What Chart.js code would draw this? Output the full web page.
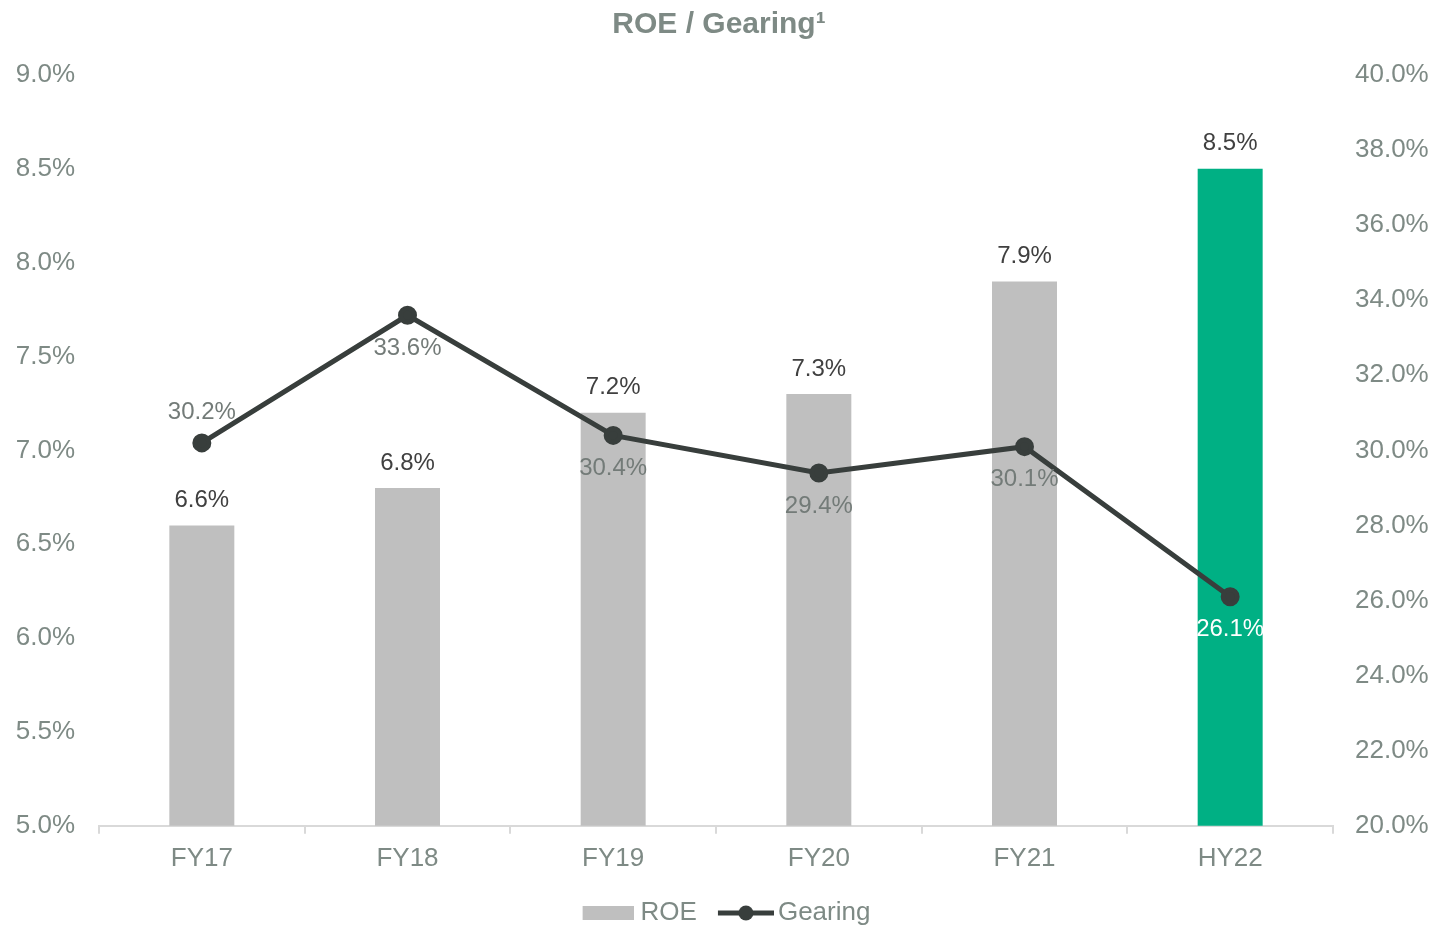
<!DOCTYPE html>
<html>
<head>
<meta charset="utf-8">
<script src="https://cdn.jsdelivr.net/npm/chart.js@4.4.1/dist/chart.umd.min.js"></script>
<style>
  html, body { margin: 0; padding: 0; background: #fff; }
  #wrap { width: 1438px; height: 927px; }
</style>
</head>
<body>
<div id="wrap"><canvas id="roe-chart"></canvas></div>
<script>
var categories = ['FY17', 'FY18', 'FY19', 'FY20', 'FY21', 'HY22'];
var roe = [6.6, 6.8, 7.2, 7.3, 7.9, 8.5];
var gearing = [30.2, 33.6, 30.4, 29.4, 30.1, 26.1];
var barColors = ['#BFBFBF', '#BFBFBF', '#BFBFBF', '#BFBFBF', '#BFBFBF', '#00B084'];

var FONT = '"Liberation Sans", Arial, sans-serif';
var GREY_TEXT = '#7E8A85';
var LINE_COLOR = '#383E3C';

// legend swatches (transparent left margin sets the gap between items)
function makeSwatch(w, h, draw) {
  var c = document.createElement('canvas');
  c.width = w; c.height = h;
  draw(c.getContext('2d'));
  return c;
}
var roeSwatch = makeSwatch(72, 16, function (g) {
  g.fillStyle = '#BFBFBF';
  g.fillRect(21, 1, 51, 14);
});
var gearSwatch = makeSwatch(78, 18, function (g) {
  g.strokeStyle = LINE_COLOR;
  g.lineWidth = 5;
  g.beginPath(); g.moveTo(22, 9); g.lineTo(78, 9); g.stroke();
  g.fillStyle = LINE_COLOR;
  g.beginPath(); g.arc(50, 9, 7.5, 0, Math.PI * 2); g.fill();
});

var valueLabels = {
  id: 'valueLabels',
  afterDatasetsDraw: function (chart) {
    var ctx = chart.ctx;
    ctx.save();
    ctx.font = '24px ' + FONT;
    ctx.textAlign = 'center';
    ctx.textBaseline = 'middle';
    chart.getDatasetMeta(0).data.forEach(function (bar, i) {
      ctx.fillStyle = '#404040';
      ctx.fillText(roe[i].toFixed(1) + '%', bar.x, bar.y - 25);
    });
    chart.getDatasetMeta(1).data.forEach(function (pt, i) {
      ctx.fillStyle = i === gearing.length - 1 ? '#FFFFFF' : '#737B78';
      ctx.fillText(gearing[i].toFixed(1) + '%', pt.x, pt.y + (i === 0 ? -31 : 33));
    });
    ctx.restore();
  }
};

var chrt = document.getElementById('roe-chart').getContext('2d');
var chartId = new Chart(chrt, {
  type: 'bar',
  data: {
    labels: categories,
    datasets: [{
      label: 'ROE',
      data: roe,
      backgroundColor: barColors,
      barPercentage: 0.316,
      categoryPercentage: 1,
      yAxisID: 'y',
      order: 2
    }, {
      type: 'line',
      label: 'Gearing',
      data: gearing,
      borderColor: LINE_COLOR,
      backgroundColor: LINE_COLOR,
      borderWidth: 5,
      pointRadius: 7,
      pointHoverRadius: 7,
      tension: 0,
      yAxisID: 'y2',
      order: 1
    }]
  },
  options: {
    responsive: true,
    maintainAspectRatio: false,
    animation: false,
    layout: { padding: { left: 0, right: 0, top: 0, bottom: -9 } },
    plugins: {
      title: {
        display: true,
        text: 'ROE / Gearing\u00B9',
        color: GREY_TEXT,
        font: { family: FONT, size: 30, weight: 'bold' },
        padding: { top: 7, bottom: 32 }
      },
      legend: {
        position: 'bottom',
        labels: {
          color: GREY_TEXT,
          font: { family: FONT, size: 26 },
          usePointStyle: true,
          padding: 8,
          generateLabels: function () {
            return [
              { text: 'ROE', pointStyle: roeSwatch, fontColor: GREY_TEXT, datasetIndex: 0, hidden: false, lineWidth: 0 },
              { text: 'Gearing', pointStyle: gearSwatch, fontColor: GREY_TEXT, datasetIndex: 1, hidden: false, lineWidth: 0 }
            ];
          },
          pointStyleWidth: 60
        }
      },
      tooltip: { enabled: false }
    },
    scales: {
      x: {
        grid: { display: true, drawOnChartArea: false, drawTicks: true, tickLength: 8, color: '#D9D9D9', lineWidth: 2 },
        border: { display: true, color: '#D9D9D9', width: 2 },
        ticks: { color: GREY_TEXT, font: { family: FONT, size: 26 }, padding: 9 },
        afterFit: function (s) { s.height += 9; }
      },
      y: {
        position: 'left',
        min: 5, max: 9,
        grid: { display: false, drawTicks: false },
        border: { display: false },
        ticks: {
          stepSize: 0.5,
          color: GREY_TEXT,
          font: { family: FONT, size: 26 },
          padding: 24,
          callback: function (v) { return v.toFixed(1) + '%'; }
        },
        afterFit: function (s) { s.width = 99; }
      },
      y2: {
        position: 'right',
        min: 20, max: 40,
        grid: { display: false, drawTicks: false },
        border: { display: false },
        ticks: {
          stepSize: 2,
          color: GREY_TEXT,
          font: { family: FONT, size: 26 },
          padding: 22,
          callback: function (v) { return v.toFixed(1) + '%'; }
        },
        afterFit: function (s) { s.width = 105; }
      }
    }
  },
  plugins: [valueLabels]
});
</script>
</body>
</html>
